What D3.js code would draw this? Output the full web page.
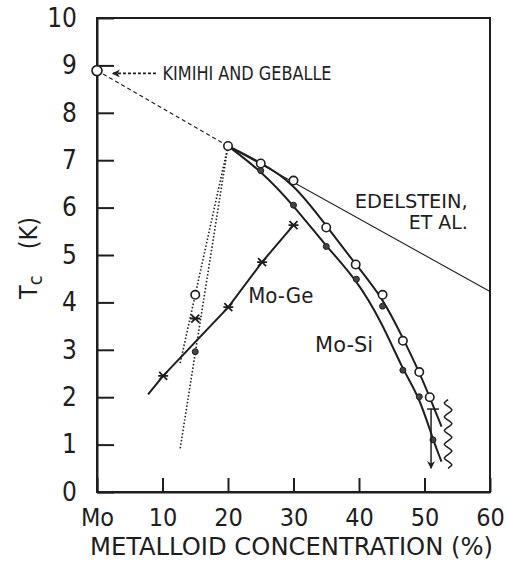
<!DOCTYPE html>
<html><head><meta charset="utf-8">
<script src="https://cdn.jsdelivr.net/npm/d3@7"></script>
<style>body{margin:0;background:#fff} svg{display:block}</style>
</head><body><svg id="c" width="506" height="563"></svg>
<script>
// ---- data ----
const xTickValues = [0, 10, 20, 30, 40, 50, 60];
const xTickLabels = ["Mo", "10", "20", "30", "40", "50", "60"];
const yTickValues = [0, 1, 2, 3, 4, 5, 6, 7, 8, 9, 10];
const yTickLabels = ["0", "1", "2", "3", "4", "5", "6", "7", "8", "9", "10"];

const kimihiPoint = [[0, 8.89]];
const edelsteinDashed = [[0, 8.89], [20, 7.3]];
const edelsteinSolid = [[20, 7.3], [60, 4.23]];

const moSiOpenLine = [[20, 7.3], [25, 6.95], [30, 6.52], [35, 5.62], [39.5, 4.80], [43.6, 4.10], [46.7, 3.25], [49.2, 2.53], [50.8, 2.0], [52.6, 1.38]];
const moSiOpenPts = [[20, 7.3], [25, 6.93], [30, 6.57], [35, 5.58], [39.5, 4.80], [43.6, 4.16], [46.7, 3.19], [49.2, 2.53], [50.8, 2.0], [15, 4.16]];
const moSiFilledLine = [[20, 7.3], [25, 6.78], [30, 6.05], [35, 5.18], [39.6, 4.49], [43.6, 3.55], [46.7, 2.57], [49.2, 2.01], [51.3, 1.10], [52.6, 0.64]];
const moSiFilledPts = [[25, 6.78], [30, 6.05], [35, 5.18], [39.6, 4.49], [43.6, 3.92], [46.7, 2.57], [49.2, 2.01], [51.3, 1.10], [15, 2.96]];

const moGeLine = [[7.8, 2.06], [10.1, 2.45], [20.05, 3.90], [25.2, 4.85], [30, 5.63]];
const moGePts = [[10.1, 2.45], [20.05, 3.90], [25.2, 4.85], [30, 5.63], [15, 3.66]];

const dottedA = [[12.7, 0.92], [20, 7.3]];
const dottedB = [[12.7, 2.72], [20, 7.3]];

const limitArrow = [[51.0, 1.75], [51.0, 0.5]];
const limitBar = [[50.4, 1.75], [52.2, 1.75]];
const wavyRange = [[53.6, 1.95], [53.6, 0.5]];
const kimihiArrow = [[9.0, 8.83], [2.4, 8.83]];

const labels = [
  {t: "KIMIHI AND GEBALLE", x: 10.0, y: 8.83, size: 20, anchor: "start", len: 169, base: "central"},
  {t: "EDELSTEIN,", x: 56.6, y: 5.99, size: 19, anchor: "end", len: 113},
  {t: "ET AL.", x: 56.6, y: 5.55, size: 19, anchor: "end", len: 59},
  {t: "Mo-Ge", x: 23.1, y: 3.99, size: 21, anchor: "start", len: 65},
  {t: "Mo-Si", x: 33.3, y: 2.95, size: 21, anchor: "start", len: 58}
];

// ---- drawing ----
const INK = "#1e1e1e";
const FONT = "'Liberation Sans Narrow','DejaVu Sans Condensed','Liberation Sans',sans-serif";
const svg = d3.select("#c");
const x = d3.scaleLinear().domain([0, 60]).range([97, 490]);
const y = d3.scaleLinear().domain([0, 10]).range([492, 18]);

const defs = svg.append("defs");
defs.append("marker").attr("id", "ah").attr("viewBox", "0 0 10 10").attr("refX", 9).attr("refY", 5)
  .attr("markerWidth", 11).attr("markerHeight", 8).attr("orient", "auto").attr("markerUnits", "userSpaceOnUse")
  .append("path").attr("d", "M0,0 L10,5 L0,10 L3,5 Z").attr("fill", INK);

// frame
svg.append("rect").attr("x", x(0)).attr("y", y(10)).attr("width", x(60) - x(0)).attr("height", y(0) - y(10))
  .attr("fill", "none").attr("stroke", INK).attr("stroke-width", 2);

// left axis
const yAxis = d3.axisLeft(y).tickValues(yTickValues).tickFormat((d, i) => yTickLabels[i])
  .tickSizeInner(-17).tickSizeOuter(0).tickPadding(20);
const gy = svg.append("g").attr("transform", `translate(${x(0)},0)`).call(yAxis);
gy.select(".domain").attr("stroke", INK).attr("stroke-width", 2);
gy.selectAll(".tick line").attr("stroke", INK).attr("stroke-width", 2);
gy.selectAll(".tick text").attr("font-family", FONT).attr("font-size", 26).attr("fill", INK);

// bottom axis
const xAxis = d3.axisBottom(x).tickValues(xTickValues).tickFormat((d, i) => xTickLabels[i])
  .tickSizeInner(-14).tickSizeOuter(0).tickPadding(16);
const gx = svg.append("g").attr("transform", `translate(0,${y(0)})`).call(xAxis);
gx.select(".domain").attr("stroke", INK).attr("stroke-width", 2);
gx.selectAll(".tick line").attr("stroke", INK).attr("stroke-width", 2);
gx.selectAll(".tick text").attr("font-family", FONT).attr("font-size", 25).attr("fill", INK);

// axis titles
svg.append("text").attr("x", (x(0) + x(60)) / 2 - 2).attr("y", 555).attr("text-anchor", "middle")
  .attr("font-family", FONT).attr("font-size", 25).attr("fill", INK)
  .attr("textLength", 403).attr("lengthAdjust", "spacingAndGlyphs")
  .text("METALLOID CONCENTRATION (%)");
const yt = svg.append("text").attr("transform", "translate(37,258) rotate(-90)").attr("text-anchor", "middle")
  .attr("font-family", FONT).attr("font-size", 25).attr("fill", INK);
yt.append("tspan").text("T");
yt.append("tspan").attr("dy", 5).attr("font-size", 20).text("c");
yt.append("tspan").attr("dy", -5).attr("dx", 26).text("(K)");

const line = d3.line().x(d => x(d[0])).y(d => y(d[1]));
const curve = d3.line().x(d => x(d[0])).y(d => y(d[1])).curve(d3.curveBasis);

// Edelstein / Kimihi line
svg.append("path").attr("d", line(edelsteinDashed)).attr("fill", "none").attr("stroke", INK)
  .attr("stroke-width", 1.2).attr("stroke-dasharray", "4,3");
svg.append("path").attr("d", line(edelsteinSolid)).attr("fill", "none").attr("stroke", INK).attr("stroke-width", 1.1);

// dotted steep lines
[dottedA, dottedB].forEach(dl => svg.append("path").attr("d", line(dl)).attr("fill", "none")
  .attr("stroke", INK).attr("stroke-width", 1.6).attr("stroke-dasharray", "1.5,2"));

// Mo-Si curves
svg.append("path").attr("d", curve(moSiOpenLine)).attr("fill", "none").attr("stroke", INK).attr("stroke-width", 2);
svg.append("path").attr("d", curve(moSiFilledLine)).attr("fill", "none").attr("stroke", INK).attr("stroke-width", 2);

// Mo-Ge line
svg.append("path").attr("d", line(moGeLine)).attr("fill", "none").attr("stroke", INK).attr("stroke-width", 2);

// markers
svg.append("g").selectAll("circle").data(moSiOpenPts).join("circle")
  .attr("cx", d => x(d[0])).attr("cy", d => y(d[1])).attr("r", 4.2)
  .attr("fill", "#fff").attr("stroke", INK).attr("stroke-width", 1.6);
svg.append("g").selectAll("circle").data(kimihiPoint).join("circle")
  .attr("cx", d => x(d[0])).attr("cy", d => y(d[1])).attr("r", 5)
  .attr("fill", "#fff").attr("stroke", INK).attr("stroke-width", 1.6);
svg.append("g").selectAll("circle").data(moSiFilledPts).join("circle")
  .attr("cx", d => x(d[0])).attr("cy", d => y(d[1])).attr("r", 3)
  .attr("fill", "#444").attr("stroke", INK).attr("stroke-width", 1);
svg.append("g").selectAll("path").data(moGePts).join("path")
  .attr("transform", d => `translate(${x(d[0])},${y(d[1])})`)
  .attr("d", "M-4,-4L4,4M-4,4L4,-4M-5,0L5,0")
  .attr("fill", "none").attr("stroke", INK).attr("stroke-width", 1.8);

// arrows / annotations
svg.append("path").attr("d", line(kimihiArrow)).attr("fill", "none").attr("stroke", INK)
  .attr("stroke-width", 1.8).attr("stroke-dasharray", "3,2").attr("marker-end", "url(#ah)");
svg.append("path").attr("d", line(limitArrow)).attr("fill", "none").attr("stroke", INK)
  .attr("stroke-width", 1.5).attr("marker-end", "url(#ah)");
svg.append("path").attr("d", line(limitBar)).attr("fill", "none").attr("stroke", INK).attr("stroke-width", 1.5);

// wavy line
(function () {
  const x0 = x(wavyRange[0][0]), y0 = y(wavyRange[0][1]), y1 = y(wavyRange[1][1]);
  const n = 5, seg = (y1 - y0) / n;
  let d = `M${x0},${y0}`;
  for (let i = 0; i < n; i++) {
    const ya = y0 + i * seg;
    d += ` C${x0 - 5},${ya + seg * 0.25} ${x0 - 5},${ya + seg * 0.25} ${x0},${ya + seg * 0.5}`;
    d += ` C${x0 + 5},${ya + seg * 0.75} ${x0 + 5},${ya + seg * 0.75} ${x0},${ya + seg}`;
  }
  svg.append("path").attr("d", d).attr("fill", "none").attr("stroke", INK).attr("stroke-width", 1.5);
})();

// labels
svg.append("g").selectAll("text").data(labels).join("text")
  .attr("x", d => x(d.x)).attr("y", d => y(d.y)).attr("text-anchor", d => d.anchor)
  .attr("dominant-baseline", d => d.base || "alphabetic")
  .attr("font-family", FONT).attr("font-size", d => d.size).attr("fill", INK)
  .attr("textLength", d => d.len).attr("lengthAdjust", "spacingAndGlyphs")
  .text(d => d.t);
</script></body></html>
